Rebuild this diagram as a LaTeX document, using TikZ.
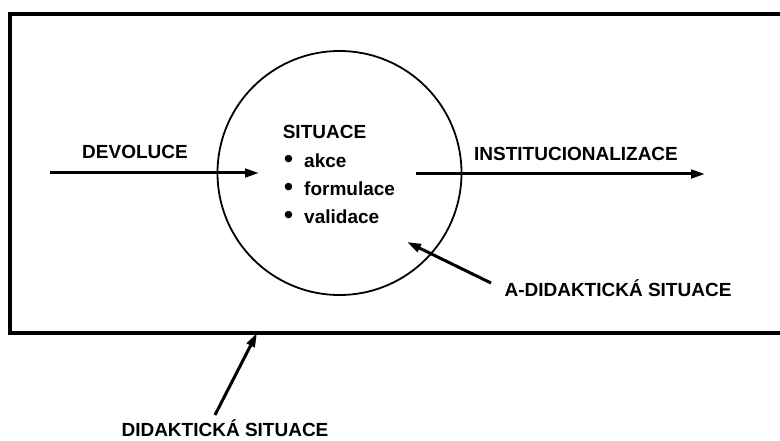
\documentclass[tikz,border=0pt]{standalone}
\usepackage{fontspec}
\setmainfont{Liberation Sans}
\usetikzlibrary{arrows.meta}
\newcommand{\itemdot}{\makebox[20pt][l]{\raisebox{0.5pt}{\scalebox{1.35}{\textbullet}}}}
\begin{document}
\begin{tikzpicture}[x=1pt,y=-1pt,
  lbl/.style={font=\fontsize{19}{22}\selectfont\bfseries, inner sep=0pt},
  arr/.style={line width=3pt, -{Triangle[length=14pt,width=8.5pt]}},
  frame/.style={line width=3.2pt},
  ring/.style={line width=1.8pt}]
\useasboundingbox (0,0) rectangle (780,441);
% outer frame, open to the right
\draw[frame] (782,14) -- (10,14) -- (10,333) -- (782,333);
% situation circle
\node[ring, draw, circle, minimum size=244pt, inner sep=0pt] (sit) at (339.5,173) {};
% labels
\node[lbl] (dev) at (135,152) {DEVOLUCE};
\node[lbl] (inst) at (576,154) {INSTITUCIONALIZACE};
\node[lbl] (adid) at (618,288) {A-DIDAKTICKÁ SITUACE};
\node[lbl] (did) at (225,428) {DIDAKTICKÁ SITUACE};
\node[lbl] (title) at (324.5,132) {SITUACE};
\node[lbl, anchor=west] (i1) at (284,161) {\itemdot akce};
\node[lbl, anchor=west] (i2) at (284,189) {\itemdot formulace};
\node[lbl, anchor=west] (i3) at (284,217) {\itemdot validace};
% arrow end points
\coordinate (devS) at (50,173);
\coordinate (devE) at (259,173);
\coordinate (instS) at (416,174);
\coordinate (instE) at (705,174);
\coordinate (adidS) at (491,283);
\coordinate (adidE) at (407,242);
\coordinate (didS) at (215,415);
\coordinate (didE) at (257,333);
% arrows
\draw[arr] (devS) -- (devE);
\draw[arr] (instS) -- (instE);
\draw[arr] (adidS) -- (adidE);
\draw[arr] (didS) -- (didE);
\end{tikzpicture}
\end{document}
